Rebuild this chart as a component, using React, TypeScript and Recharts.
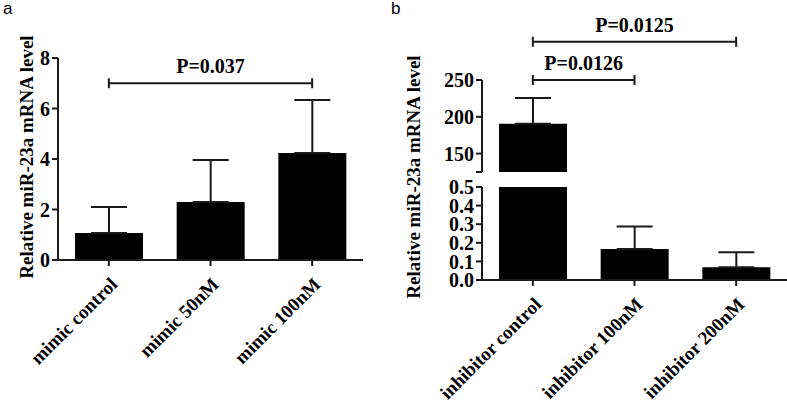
import React from 'react';
import { BarChart, Bar, XAxis, YAxis, ErrorBar, ReferenceLine } from 'recharts';

// panel a: miR-23a mimic
const mimicGroups = ['mimic control', 'mimic 50nM', 'mimic 100nM'];
const mimicMeans = [1.07, 2.3, 4.24];
const mimicErrors = [1.03, 1.66, 2.1];
const mimicTicks = [0, 2, 4, 6, 8];

// panel b: miR-23a inhibitor (broken y axis)
const inhibitorGroups = ['inhibitor control', 'inhibitor 100nM', 'inhibitor 200nM'];
const inhibitorMeans = [190.5, 0.167, 0.068];
const inhibitorErrors = [35.2, 0.12, 0.081];
const upperDomain = [125, 250];
const upperTicks = [125, 150, 200, 250];
const lowerDomain = [0, 0.5];
const lowerTicks = [0, 0.1, 0.2, 0.3, 0.4, 0.5];

const mimicBrackets = [{ from: 'mimic control', to: 'mimic 100nM', y: 7, text: 'P=0.037' }];
const inhibitorBrackets = [
	{ from: 'inhibitor control', to: 'inhibitor 100nM', y: 250, text: 'P=0.0126' },
	{ from: 'inhibitor control', to: 'inhibitor 200nM', y: 302, text: 'P=0.0125' },
];

const yTitle = 'Relative miR-23a mRNA level';

const serif = 'Liberation Serif, Times New Roman, serif';
const ink = '#1a1a1a';
const font = { fontFamily: serif, fontWeight: 'bold', fontSize: 19, fill: '#000' };
const yTickFont = { ...font, fontSize: 20 };
const pFont = { ...font, fontSize: 20 };
const line = { stroke: ink, strokeWidth: 2 };

// error bars are drawn upward only, as in the figure
const mimicData = mimicGroups.map((group, i) => ({ group, mean: mimicMeans[i], err: [0, mimicErrors[i]] }));
const upperData = inhibitorGroups.map((group, i) => {
	const keep = inhibitorMeans[i] >= upperDomain[0];
	return { group, mean: keep ? inhibitorMeans[i] : null, err: keep ? [0, inhibitorErrors[i]] : null };
});
const lowerData = inhibitorGroups.map((group, i) => {
	const keep = inhibitorMeans[i] <= lowerDomain[1];
	return { group, mean: inhibitorMeans[i], err: keep ? [0, inhibitorErrors[i]] : null };
});

function Bracket(props: any) {
	const { x1, y1, x2 } = props;
	return (
		<path
			d={`M${x1},${y1 - 5}V${y1 + 5}M${x1},${y1}H${x2}M${x2},${y1 - 5}V${y1 + 5}`}
			stroke={ink}
			strokeWidth={2}
			fill='none'
		/>
	);
}

function bracketLines(list: typeof mimicBrackets) {
	return list.map((b) => (
		<ReferenceLine
			key={b.text}
			segment={[
				{ x: b.from, y: b.y },
				{ x: b.to, y: b.y },
			]}
			ifOverflow='visible'
			shape={Bracket}
			label={{ value: b.text, position: 'top', offset: 10, style: pFont }}
		/>
	));
}

function AxisTitle({ x, y }: { x: number; y: number }) {
	return (
		<svg
			width={60}
			height={402}
			style={{ position: 'absolute', left: x - 40, top: 0 }}>
			<text
				transform={`translate(40,${y}) rotate(-90)`}
				textAnchor='middle'
				{...font}>
				{yTitle}
			</text>
		</svg>
	);
}

function PanelLetter({ x, text }: { x: number; text: string }) {
	return (
		<div
			style={{
				position: 'absolute',
				left: x,
				top: -1,
				fontFamily: 'Liberation Sans, Arial, sans-serif',
				fontSize: 17,
				color: '#000',
			}}>
			{text}
		</div>
	);
}

export default function App() {
	return (
		<div style={{ position: 'absolute', left: 0, top: 0, width: 787, height: 402, background: '#fff', overflow: 'hidden' }}>
			<PanelLetter
				x={3}
				text='a'
			/>
			<PanelLetter
				x={391}
				text='b'
			/>

			<div style={{ position: 'absolute', left: 0, top: 0 }}>
				<BarChart
					width={390}
					height={402}
					data={mimicData}
					barSize={68}
					margin={{ top: 58, right: 27, bottom: 0, left: 0 }}>
					<XAxis
						dataKey='group'
						height={142}
						interval={0}
						angle={-45}
						textAnchor='end'
						tickMargin={10}
						tick={font}
						axisLine={line}
						tickLine={line}
					/>
					<YAxis
						width={58}
						domain={[0, 8]}
						ticks={mimicTicks}
						interval={0}
						tick={yTickFont}
						axisLine={line}
						tickLine={line}
					/>
					<Bar
						dataKey='mean'
						fill='#000'
						isAnimationActive={false}>
						<ErrorBar
							dataKey='err'
							width={18}
							stroke={ink}
							strokeWidth={2}
							isAnimationActive={false}
						/>
					</Bar>
					{bracketLines(mimicBrackets)}
				</BarChart>
			</div>

			<div style={{ position: 'absolute', left: 390, top: 0 }}>
				<BarChart
					width={397}
					height={180}
					data={upperData}
					barSize={68}
					margin={{ top: 80, right: 0, bottom: 8, left: 0 }}>
					<XAxis
						dataKey='group'
						hide
					/>
					<YAxis
						width={92}
						domain={upperDomain}
						ticks={upperTicks}
						interval={0}
						allowDataOverflow
						tickFormatter={(v: number) => (v === upperDomain[0] ? '' : String(v))}
						tick={yTickFont}
						axisLine={line}
						tickLine={line}
					/>
					<Bar
						dataKey='mean'
						fill='#000'
						isAnimationActive={false}>
						<ErrorBar
							dataKey='err'
							width={18}
							stroke={ink}
							strokeWidth={2}
							isAnimationActive={false}
						/>
					</Bar>
					{bracketLines(inhibitorBrackets)}
				</BarChart>
			</div>

			<div style={{ position: 'absolute', left: 390, top: 0 }}>
				<BarChart
					width={397}
					height={402}
					data={lowerData}
					barSize={68}
					margin={{ top: 187, right: 0, bottom: 0, left: 0 }}>
					<XAxis
						dataKey='group'
						height={122}
						interval={0}
						angle={-45}
						textAnchor='end'
						tickMargin={10}
						tick={font}
						axisLine={line}
						tickLine={line}
					/>
					<YAxis
						width={92}
						domain={lowerDomain}
						ticks={lowerTicks}
						interval={0}
						allowDataOverflow
						tickFormatter={(v: number) => v.toFixed(1)}
						tick={yTickFont}
						axisLine={line}
						tickLine={line}
					/>
					<Bar
						dataKey='mean'
						fill='#000'
						isAnimationActive={false}>
						<ErrorBar
							dataKey='err'
							width={18}
							stroke={ink}
							strokeWidth={2}
							isAnimationActive={false}
						/>
					</Bar>
				</BarChart>
			</div>

			<AxisTitle
				x={33}
				y={157}
			/>
			<AxisTitle
				x={420}
				y={177}
			/>
		</div>
	);
}
